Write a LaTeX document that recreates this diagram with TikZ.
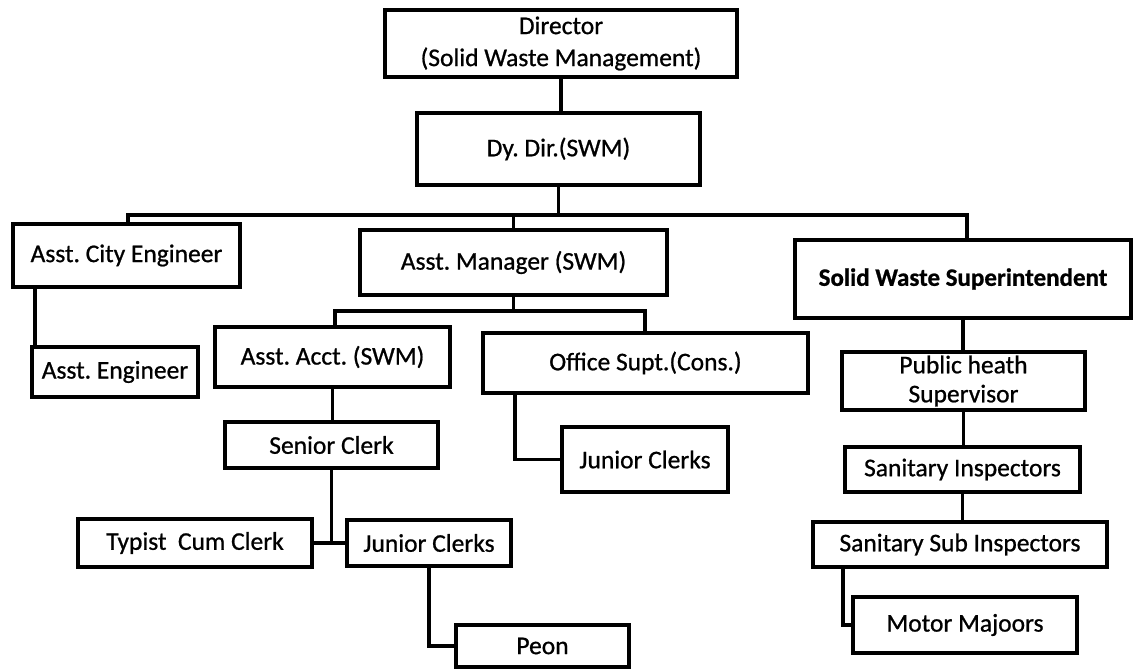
\documentclass[tikz,border=0pt]{standalone}
\usepackage{fontspec}
\setmainfont{Carlito}[FakeBold=0.8]
\frenchspacing
\begin{document}
\begin{tikzpicture}[x=1pt,y=-1pt,
  box/.style={draw=black, line width=3.6pt, fill=white, inner sep=0pt, outer sep=0pt,
    align=center, text=black, font=\fontsize{25.5}{29}\selectfont},
  boldbox/.style={box, font=\fontsize{25}{30}\selectfont\bfseries},
  link/.style={draw=black, line width=3.4pt, line join=miter}]
\fill[white] (0,0) rectangle (1136,669);
\useasboundingbox (0,0) rectangle (1136,669);

% nodes
\node[box, minimum width=352pt, minimum height=67pt, font=\fontsize{25.5}{32}\selectfont] (dir) at (561,43.5) {Director\\(Solid Waste Management)};
\node[box, minimum width=283pt, minimum height=72pt] (dyd) at (558.5,149) {Dy. Dir.(SWM)};
\node[box, minimum width=227pt, minimum height=63pt] (ace) at (126.5,255.5) {Asst. City Engineer};
\node[box, minimum width=307pt, minimum height=65pt] (am) at (513.5,262.5) {Asst. Manager (SWM)};
\node[boldbox, minimum width=336pt, minimum height=78pt] (sws) at (963,279) {Solid Waste Superintendent};
\node[box, minimum width=166pt, minimum height=50pt] (ae) at (115,372) {Asst. Engineer};
\node[box, minimum width=235pt, minimum height=60pt] (aa) at (332.5,357) {Asst. Acct. (SWM)};
\node[box, minimum width=325pt, minimum height=60pt] (os) at (645.5,363) {Office Supt.(Cons.)};
\node[box, minimum width=243pt, minimum height=58pt] (phs) at (963.5,381) {Public heath\\Supervisor};
\node[box, minimum width=213pt, minimum height=46pt] (sc) at (331.5,445) {Senior Clerk};
\node[box, minimum width=166pt, minimum height=65pt] (jca) at (645,459.5) {Junior Clerks};
\node[box, minimum width=235pt, minimum height=45pt] (si) at (962.5,469.5) {Sanitary Inspectors};
\node[box, minimum width=234pt, minimum height=48pt] (typ) at (195,543) {Typist\ \ Cum Clerk};
\node[box, minimum width=164pt, minimum height=46pt] (jcb) at (429,543) {Junior Clerks};
\node[box, minimum width=294pt, minimum height=45pt] (ssi) at (960,544.5) {Sanitary Sub Inspectors};
\node[box, minimum width=173pt, minimum height=42pt] (peon) at (542.5,646) {Peon};
\node[box, minimum width=224pt, minimum height=56pt] (mm) at (965,625) {Motor Majoors};

% bus coordinates
\coordinate (busL) at (128,215);
\coordinate (busR) at (967,215);
\coordinate (subL) at (335,311);
\coordinate (subR) at (645,311);

% connectors
\draw[link] (dir.south) -- (dir.south |- dyd.north);
\draw[link] (dyd.south) -- (dyd.south |- busL);
\draw[link] (busL |- ace.north) -- (busL) -- (busR) -- (busR |- sws.north);
\draw[link] (am.north |- busL) -- (am.north);
\draw[link] ([xshift=22pt]ace.south west) -- ([xshift=22pt]ace.south west |- ae.north);
\draw[link] (am.south) -- (am.south |- subL);
\draw[link] (subL |- aa.north) -- (subL) -- (subR) -- (subR |- os.north);
\draw[link] (aa.south) -- (aa.south |- sc.north);
\draw[link] (sc.south) -- (sc.south |- typ.east);
\draw[link] (typ.east) -- (jcb.west);
\draw[link] (jcb.south) |- (peon.west);
\draw[link] ([xshift=32pt]os.south west) |- (jca.west);
\draw[link] (sws.south) -- (sws.south |- phs.north);
\draw[link] (phs.south) -- (phs.south |- si.north);
\draw[link] (si.south) -- (si.south |- ssi.north);
\draw[link] ([xshift=30pt]ssi.south west) |- (mm.west);
\end{tikzpicture}
\end{document}
